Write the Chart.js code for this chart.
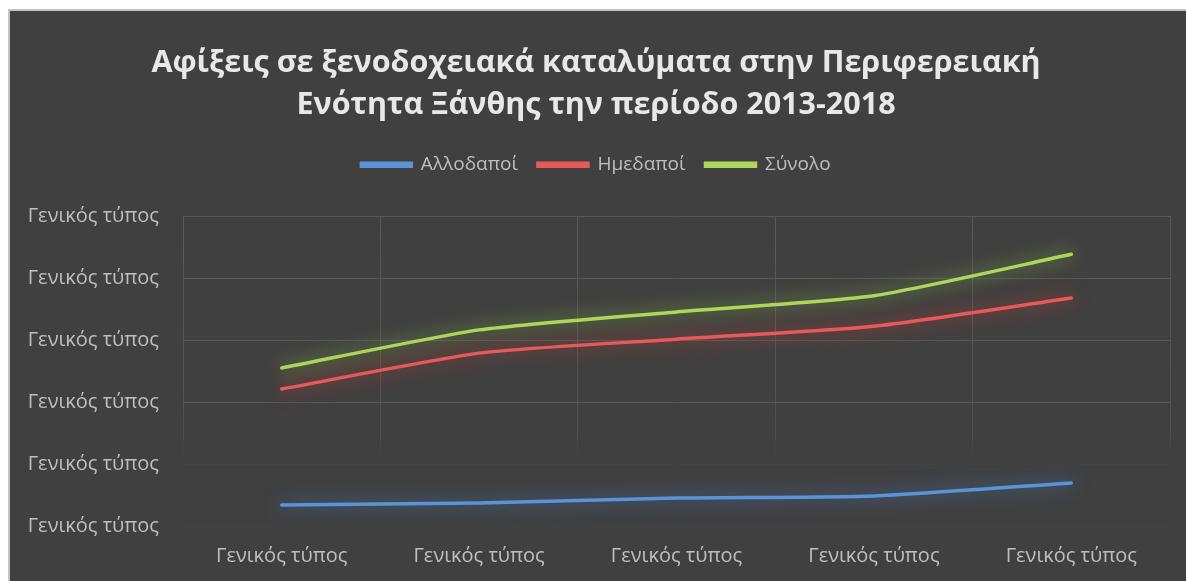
<!DOCTYPE html>
<html>
<head>
<meta charset="utf-8">
<script src="https://cdn.jsdelivr.net/npm/chart.js@4"></script>
<style>
  html, body { margin: 0; padding: 0; background: #ffffff; }
  #box {
    position: absolute; left: 8px; top: 9px; width: 1178px; height: 572px;
    background: #404040; border-top: 2px solid #c4c4c4; border-left: 2px solid #c4c4c4;
    box-sizing: border-box;
  }
</style>
</head>
<body>
<div id="box"><canvas id="chart"></canvas></div>
<script>
const years = ['Γενικός τύπος', 'Γενικός τύπος', 'Γενικός τύπος', 'Γενικός τύπος', 'Γενικός τύπος'];
const foreigners = [6800, 7400, 9000, 9700, 13900];
const domestic = [44200, 55800, 60300, 64500, 73600];
const total = [51000, 63300, 69100, 74300, 87700];
const yTickLabel = 'Γενικός τύπος';

const FONT = "'Open Sans', sans-serif";

// soft glow under each line, like the Excel "glow" effect
const glow = {
    id: 'glow',
    beforeDatasetDraw(chart, args) {
        const ds = chart.data.datasets[args.index];
        chart.ctx.save();
        chart.ctx.shadowColor = ds.glowColor;
        chart.ctx.shadowBlur = 18;
    },
    afterDatasetDraw(chart) {
        chart.ctx.restore();
    }
};

// extra space between legend and plot
const legendGap = {
    id: 'legendGap',
    beforeInit(chart) {
        const fit = chart.legend.fit;
        chart.legend.fit = function () {
            fit.bind(chart.legend)();
            this.height += 32;
        };
    }
};

function fadeGrid(ctx) {
    const area = ctx.chart.chartArea;
    if (!area) return '#575757';
    const g = ctx.chart.ctx.createLinearGradient(0, area.top, 0, area.bottom);
    g.addColorStop(0, '#5a5a5a');
    g.addColorStop(0.7, '#505050');
    g.addColorStop(0.8, 'rgba(64,64,64,0)');
    g.addColorStop(1, 'rgba(64,64,64,0)');
    return g;
}

new Chart(document.getElementById('chart'), {
    type: 'line',
    data: {
        labels: years,
        datasets: [
            { label: 'Αλλοδαποί', data: foreigners, borderColor: '#5b93d8', backgroundColor: '#5b8bc9', glowColor: 'rgba(70,130,220,0.85)' },
            { label: 'Ημεδαποί', data: domestic, borderColor: '#e85a5a', backgroundColor: '#d45555', glowColor: 'rgba(230,60,60,0.85)' },
            { label: 'Σύνολο', data: total, borderColor: '#aed65c', backgroundColor: '#a3c957', glowColor: 'rgba(150,210,60,0.85)' }
        ]
    },
    options: {
        responsive: true,
        maintainAspectRatio: false,
        animation: false,
        layout: { padding: { top: 12, left: 0, right: 4, bottom: 0 } },
        elements: {
            line: { borderWidth: 3.5, tension: 0.2, borderCapStyle: 'round' },
            point: { radius: 0 }
        },
        plugins: {
            title: {
                display: true,
                text: ['Αφίξεις σε ξενοδοχειακά καταλύματα στην Περιφερειακή', 'Ενότητα Ξάνθης την περίοδο 2013-2018'],
                color: '#e8e8e8',
                font: { family: FONT, size: 30.5, weight: 'bold', lineHeight: 1.38 },
                padding: { top: 19, bottom: 9 }
            },
            legend: {
                position: 'top',
                labels: {
                    color: '#bfbfbf',
                    font: { family: FONT, size: 19 },
                    boxWidth: 50,
                    boxHeight: 3,
                    padding: 20
                }
            },
            tooltip: { enabled: false }
        },
        scales: {
            x: {
                offset: true,
                afterFit(scale) { scale.height -= 5; },
                grid: { offset: true, color: fadeGrid, drawTicks: false },
                border: { display: false },
                ticks: { color: '#bfbfbf', font: { family: FONT, size: 20 }, padding: 18, maxRotation: 0 }
            },
            y: {
                min: 0,
                max: 100000,
                afterFit(scale) { scale.width = 173; },
                grid: {
                    drawTicks: false,
                    color: (ctx) => (ctx.tick && ctx.tick.value < 40000) ? 'rgba(90,90,90,0.15)' : '#575757'
                },
                border: { display: false },
                ticks: {
                    stepSize: 20000,
                    color: '#bfbfbf',
                    font: { family: FONT, size: 20 },
                    padding: 24,
                    callback: () => yTickLabel
                }
            },
            // empty right-hand axis, only keeps a margin on the right
            yRight: {
                position: 'right',
                display: true,
                afterFit(scale) { scale.width = 12; },
                grid: { display: false },
                border: { display: false },
                ticks: { display: false }
            }
        }
    },
    plugins: [glow, legendGap]
});
</script>
</body>
</html>
